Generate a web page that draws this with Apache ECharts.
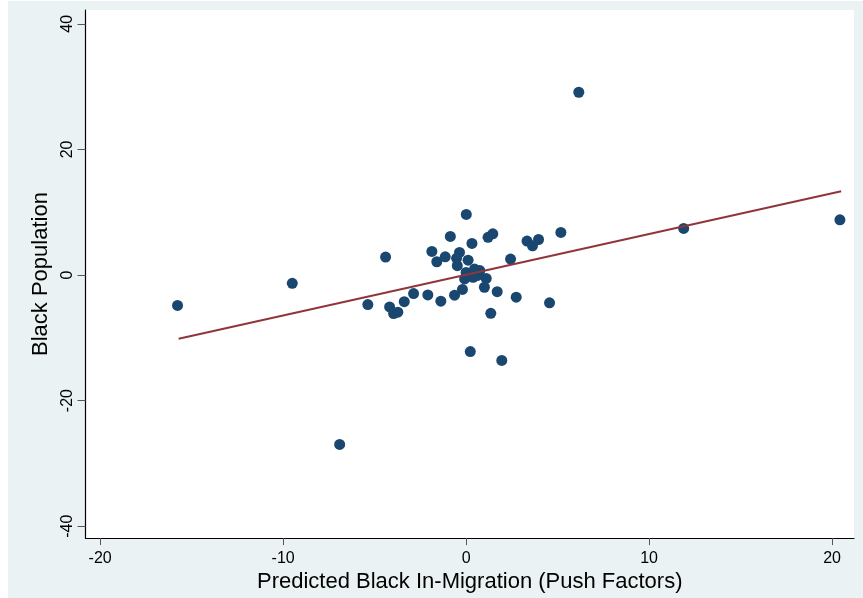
<!DOCTYPE html>
<html>
<head>
<meta charset="utf-8">
<script src="https://cdn.jsdelivr.net/npm/echarts@6/dist/echarts.min.js"></script>
<style>
html,body{margin:0;padding:0;background:#ffffff;}
#chart{width:863px;height:598px;}
</style>
</head>
<body>
<div id="chart"></div>
<script>
// Scatter data: predicted black in-migration (x) vs black population (y)
const pushX = [-15.77, -9.50, -6.91, 6.16, 11.89, 20.43, 5.18, 4.56, 1.20, 1.46,
  3.33, 3.63, 3.96, 2.43, 1.10, 1.00, 1.70, 2.74, 1.35, 0.23,
  1.95, 0.01, -0.86, 0.32, -1.87, -1.60, -1.14, -0.36, -0.52, -0.48,
  0.11, -2.09, -1.38, -0.63, -0.20, -4.40, -5.37, -4.18, -3.96, -3.73,
  -3.38, -2.87, 0.00, 0.46, 0.75, 0.38, -0.08, 0.60];
const blackPop = [-4.85, -1.32, -26.98, 29.1, 7.41, 8.78, 6.78, -4.44, 6.00, 6.55,
  5.40, 4.65, 5.65, 2.54, -0.55, -1.95, -2.65, -3.54, -6.10, -12.2,
  -13.6, 9.65, 6.14, 5.03, 3.76, 2.11, 2.90, 3.60, 2.65, 1.48,
  2.35, -3.17, -4.17, -3.22, -2.30, 2.85, -4.71, -5.08, -6.15, -5.93,
  -4.25, -2.95, 0.40, 0.95, 0.70, -0.37, -0.63, -0.10];
// Fitted line endpoints
const fitX = [-15.71, 20.5];
const fitY = [-10.16, 13.33];
// Tick labels
const xTicks = [-20, -10, 0, 10, 20];
const yTicks = [-40, -20, 0, 20, 40];

const points = pushX.map((x, i) => [x, blackPop[i]]);
const fitLine = fitX.map((x, i) => [x, fitY[i]]);

const chart = echarts.init(document.getElementById('chart'), null, {renderer: 'canvas'});
const FONT = '"Liberation Sans", Arial, sans-serif';
chart.setOption({
  backgroundColor: '#ffffff',
  animation: false,
  graphic: [{
    type: 'rect', z: -10, silent: true,
    shape: {x: 8, y: 1, width: 855, height: 597},
    style: {fill: '#eaf2f3'}
  }],
  grid: {
    left: 85.5, top: 10, right: 9, bottom: 58,
    show: true, backgroundColor: '#ffffff', borderWidth: 0
  },
  xAxis: {
    type: 'value', min: -20.8, max: 21.2,
    name: 'Predicted Black In-Migration (Push Factors)',
    nameLocation: 'middle', nameGap: 29,
    nameTextStyle: {fontFamily: FONT, fontSize: 22, color: '#000'},
    axisLine: {show: true, onZero: false, lineStyle: {color: '#000', width: 1.2}},
    axisTick: {show: true, customValues: xTicks, length: 7, lineStyle: {color: '#555', width: 1}},
    axisLabel: {customValues: xTicks, fontFamily: FONT, fontSize: 16, color: '#000', margin: 12},
    splitLine: {show: false}
  },
  yAxis: {
    type: 'value', min: -41.9, max: 42.2,
    name: 'Black Population',
    nameLocation: 'middle', nameGap: 34, nameRotate: 90,
    nameTextStyle: {fontFamily: FONT, fontSize: 22, color: '#000'},
    axisLine: {show: true, onZero: false, lineStyle: {color: '#000', width: 1.2}},
    axisTick: {show: true, customValues: yTicks, length: 8, lineStyle: {color: '#555', width: 1}},
    axisLabel: {customValues: yTicks, rotate: 90, fontFamily: FONT, fontSize: 16, color: '#000', margin: 10},
    splitLine: {show: false}
  },
  series: [{
    type: 'scatter',
    data: points,
    symbol: 'circle',
    symbolSize: 11,
    itemStyle: {color: '#1a476f', opacity: 1},
    z: 2
  }, {
    type: 'line',
    data: fitLine,
    showSymbol: false,
    symbol: 'none',
    lineStyle: {color: '#90353b', width: 2},
    z: 3
  }]
});
</script>
</body>
</html>
